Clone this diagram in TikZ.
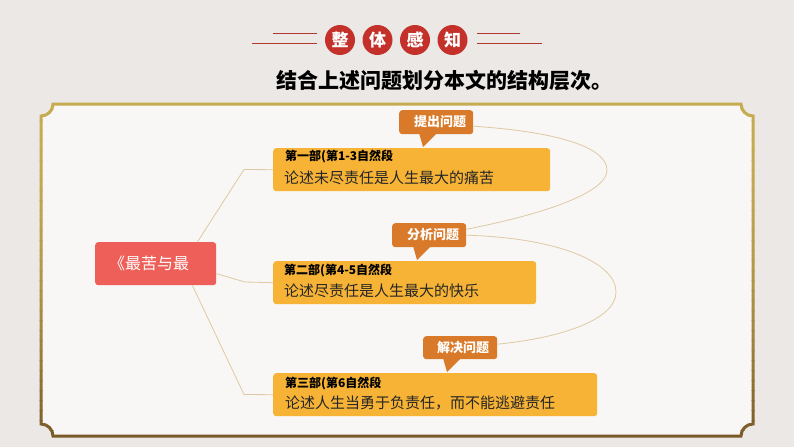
\documentclass[tikz,border=0pt]{standalone}
\usepackage{fontspec}
\newfontfamily\cjk{Noto Sans CJK SC}
\usetikzlibrary{calc}
\definecolor{bgout}{HTML}{EBE8E5}
\definecolor{bgin}{HTML}{F8F7F5}
\definecolor{fgold}{HTML}{C6AC50}
\definecolor{fbrown}{HTML}{7A5A28}
\definecolor{hred}{HTML}{C4312B}
\definecolor{hline}{HTML}{B0392F}
\definecolor{boxy}{HTML}{F6B335}
\definecolor{rootred}{HTML}{EE5F59}
\definecolor{qorange}{HTML}{D97A2A}
\definecolor{linkc}{HTML}{DFC9A3}
\tikzset{
  frameshape/.style={insert path={(53,104) -- (741,104) .. controls (741,110.6) and (746.4,116) .. (753,116)
    -- (753,424) .. controls (746.4,424) and (741,429.4) .. (741,436)
    -- (53,436) .. controls (53,429.4) and (47.6,424) .. (41,424)
    -- (41,116) .. controls (47.6,116) and (53,110.6) .. (53,104) -- cycle}},
  hcirc/.style={circle,fill=hred,minimum size=30pt,inner sep=0pt,text=white,
    font=\cjk\bfseries\fontsize{17}{17}\selectfont},
  partbox/.style={fill=boxy,rounded corners=3pt,minimum height=43pt,anchor=north west,inner sep=0pt},
  rootbox/.style={fill=rootred,rounded corners=3pt,minimum width=121pt,minimum height=43pt,anchor=north west,inner sep=0pt},
  qbox/.style={fill=qorange,rounded corners=3pt,minimum width=74pt,minimum height=24pt,anchor=north west,inner sep=0pt},
  qtext/.style={text=white,inner sep=0pt,font=\cjk\bfseries\fontsize{13}{13}\selectfont},
  tline/.style={anchor=west,inner sep=0pt,text=black,font=\cjk\bfseries\fontsize{12}{12}\selectfont},
  dline/.style={anchor=west,inner sep=0pt,text=black!85,font=\cjk\fontsize{15}{15}\selectfont},
  linkline/.style={draw=linkc,line width=0.8pt},
  hrule/.style={draw=hline,line width=0.9pt}
}
\begin{document}
\begin{tikzpicture}[x=1pt,y=-1pt]
\useasboundingbox (0,0) rectangle (794,447);
\fill[bgout] (0,0) rectangle (794,447);
% panel
\fill[bgin, frameshape];
\foreach \i in {0,...,34} {
  \pgfmathsetmacro\yy{100+\i*10}
  \pgfmathsetmacro\tt{max(0,min(1,(\yy+5-104)/332))}
  \pgfmathsetmacro\pp{100*\tt*\tt}
  \begin{scope}
    \clip (0,\yy) rectangle (794,\yy+10);
    \colorlet{fc}{fbrown!\pp!fgold}
    \draw[fc, line width=3pt, frameshape];
  \end{scope}
}
% header
\draw[hrule] (252,43) -- (317,43);
\draw[hrule] (273,33) -- (317,33);
\draw[hrule] (477,43) -- (542,43);
\draw[hrule] (477,33) -- (520,33);
\node[hcirc] (h1) at (340,40) {整};
\node[hcirc] (h2) at (377.5,40) {体};
\node[hcirc] (h3) at (415,40) {感};
\node[hcirc] (h4) at (452.5,40) {知};
\node[font=\cjk\bfseries\fontsize{21}{21}\selectfont, text=black, inner sep=0pt] (title) at (444,81) {结合上述问题划分本文的结构层次。};
% root
\node[rootbox] (root) at (95,242) {};
\node[anchor=west,inner sep=0pt,text=white,font=\cjk\fontsize{16}{16}\selectfont] (roottext) at (109,263.5) {《最苦与最};
% parts
\node[partbox,minimum width=277pt] (box1) at (273,148) {};
\node[tline] (b1a) at (285,157) {第一部(第1-3自然段};
\node[dline] (b1b) at (284,178) {论述未尽责任是人生最大的痛苦};
\node[partbox,minimum width=263pt] (box2) at (273,261) {};
\node[tline] (b2a) at (284,270) {第二部(第4-5自然段};
\node[dline] (b2b) at (284,291) {论述尽责任是人生最大的快乐};
\node[partbox,minimum width=324pt] (box3) at (273,373) {};
\node[tline] (b3a) at (285,383) {第三部(第6自然段};
\node[dline] (b3b) at (285,403) {论述人生当勇于负责任，而不能逃避责任};
% connectors root -> parts
\draw[linkline] ([xshift=-19pt]root.north east) -- (244,169.5) -- (box1.west);
\draw[linkline] ([yshift=-10pt]root.east) -- (245,282) -- (box2.west);
\draw[linkline] ([xshift=-24pt]root.south east) -- (244,394.5) -- (box3.west);
% question bubbles
\node[qbox] (q1) at (399,110) {};
\fill[qorange] (419,133) -- (437,133) -- (423,147) -- cycle;
\node[qtext] (q1t) at (440,122) {提出问题};
\node[qbox] (q2) at (392,223) {};
\fill[qorange] (413,246) -- (431,246) -- (417,260) -- cycle;
\node[qtext] (q2t) at (433,235) {分析问题};
\node[qbox,minimum height=23pt] (q3) at (423,336) {};
\fill[qorange] (443,358) -- (461,358) -- (447,372) -- cycle;
\node[qtext] (q3t) at (463,347.5) {解决问题};
% loops
\draw[linkline] ([yshift=-4pt]q1.east) .. controls (560,132) and (607,148) .. (607,170)
  .. controls (607,196) and (525,218) .. ([yshift=6pt]q2.east);
\draw[linkline] (q2.east) .. controls (560,238) and (616,263) .. (616,292)
  .. controls (616,320) and (560,338) .. ([yshift=3.5pt]q3.east);
\end{tikzpicture}
\end{document}
